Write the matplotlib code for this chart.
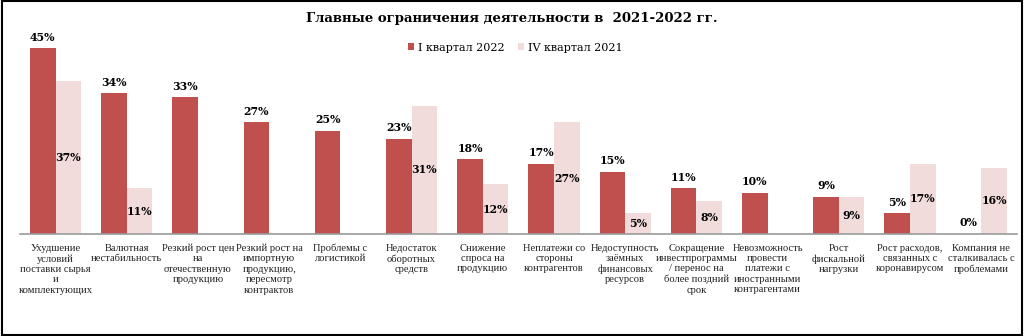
import numpy as np
import matplotlib
matplotlib.use("Agg")
import matplotlib.pyplot as plt

# Datos del gráfico (proporción de empresas)
categorias = [
    "Ухудшение\nусловий\nпоставки сырья\nи\nкомплектующих",
    "Валютная\nнестабильность",
    "Резкий рост цен\nна\nотечественную\nпродукцию",
    "Резкий рост на\nимпортную\nпродукцию,\nпересмотр\nконтрактов",
    "Проблемы с\nлогистикой",
    "Недостаток\nоборотных\nсредств",
    "Снижение\nспроса на\nпродукцию",
    "Неплатежи со\nстороны\nконтрагентов",
    "Недоступность\nзаёмных\nфинансовых\nресурсов",
    "Сокращение\nинвестпрограммы\n/ перенос на\nболее поздний\nсрок",
    "Невозможность\nпровести\nплатежи с\nиностранными\nконтрагентами",
    "Рост\nфискальной\nнагрузки",
    "Рост расходов,\nсвязанных с\nкоронавирусом",
    "Компания не\nсталкивалась с\nпроблемами",
]
q1_2022 = [0.45, 0.34, 0.33, 0.27, 0.25, 0.23, 0.18, 0.17, 0.15, 0.11, 0.10, 0.09, 0.05, 0.00]
q4_2021 = [0.37, 0.11, None, None, None, 0.31, 0.12, 0.27, 0.05, 0.08, None, 0.09, 0.17, 0.16]
series_names = ["I квартал 2022", "IV квартал 2021"]

COLOR_Q1 = "#C0504D"
COLOR_Q4 = "#F2DCDB"
FONT = "DejaVu Serif"
FONT_TICKS = "Liberation Serif"

plt.rcParams["font.family"] = FONT

fig = plt.figure(figsize=(10.24, 3.36), dpi=100)
ax = fig.add_axes([0.0195, 0.304, 0.9735, 0.615])

x = np.arange(len(categorias))
ancho = 0.36

q4_vals = np.array([np.nan if v is None else v for v in q4_2021])

b1 = ax.bar(x - ancho / 2, q1_2022, ancho, color=COLOR_Q1, label=series_names[0])
b2 = ax.bar(x + ancho / 2, np.nan_to_num(q4_vals), ancho, color=COLOR_Q4, label=series_names[1])
for rect, v in zip(b2, q4_vals):
    if np.isnan(v):
        rect.set_visible(False)

# Etiquetas de la serie 1 encima de la barra
for xi, v in zip(x, q1_2022):
    ax.text(xi - ancho / 2, v + 0.013, f"{v * 100:.0f}%", ha="center", va="bottom",
            fontsize=7.8, fontweight="bold")

# Etiquetas de la serie 2 en el centro de la barra
for xi, v in zip(x, q4_vals):
    if np.isnan(v):
        continue
    ax.text(xi + ancho / 2, v / 2, f"{v * 100:.0f}%", ha="center", va="center",
            fontsize=7.8, fontweight="bold")

ax.set_xlim(-0.5, len(categorias) - 0.5)
ax.set_ylim(0, 0.5)
ax.set_yticks([])
ax.set_xticks(x)
ax.set_xticklabels(categorias, fontsize=7.6, linespacing=1.2, color="#222222",
                   family=FONT_TICKS)
ax.tick_params(axis="x", length=0, pad=7)

for lado in ["top", "right", "left"]:
    ax.spines[lado].set_visible(False)
ax.spines["bottom"].set_color("#9a9a9a")
ax.spines["bottom"].set_linewidth(1.2)

fig.text(0.5, 0.945, "Главные ограничения деятельности в  2021-2022 гг.",
         ha="center", va="center", fontsize=9.5, fontweight="bold")

fig.legend(handles=[b1, b2], labels=series_names, loc="center",
           bbox_to_anchor=(0.503, 0.858), ncol=2, frameon=False, fontsize=8,
           handlelength=0.6, handleheight=0.6, handletextpad=0.3, columnspacing=1.2)

# Marco negro alrededor de la figura
fig.patches.append(plt.Rectangle((0.002, 0.003), 0.996, 0.994, transform=fig.transFigure,
                                 fill=False, edgecolor="black", linewidth=1.5))

fig.savefig("out.png", dpi=100)
